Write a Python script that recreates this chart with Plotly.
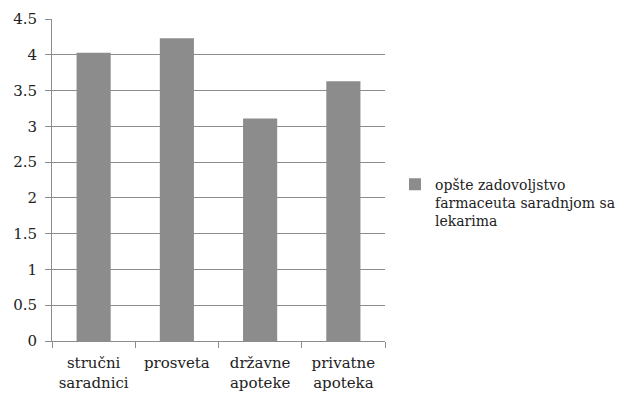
import plotly.graph_objects as go

categories = ["stručni<br>saradnici", "prosveta", "državne<br>apoteke", "privatne<br>apoteka"]
values = [4.03, 4.23, 3.11, 3.63]
series_name = "opšte zadovoljstvo<br>farmaceuta saradnjom sa<br>lekarima"
y_ticks = [0, 0.5, 1, 1.5, 2, 2.5, 3, 3.5, 4, 4.5]
y_tick_text = ["0", "0.5", "1", "1.5", "2", "2.5", "3", "3.5", "4", "4.5"]

FONT = "DejaVu Serif, serif"
GRID = "#8c8c8c"

fig = go.Figure()
fig.add_trace(go.Bar(
    x=categories, y=values, name=series_name,
    marker=dict(color="#8c8c8c", line=dict(width=0)),
    showlegend=True,
))

fig.update_layout(
    width=617, height=392,
    margin=dict(l=44, r=240, t=11, b=59, autoexpand=False),
    paper_bgcolor="white", plot_bgcolor="white",
    bargap=0.59,
    font=dict(family=FONT, size=15, color="#222222"),
    showlegend=True,
    legend=dict(
        x=1.03, y=0.43, xanchor="left", yanchor="middle",
        font=dict(family=FONT, size=14, color="#222222"),
        valign="top", itemwidth=30, tracegroupgap=0,
    ),
    xaxis=dict(
        showline=True, linecolor=GRID, linewidth=1,
        ticks="outside", tickson="boundaries", ticklen=6, tickcolor=GRID,
        ticklabelstandoff=8,
        showgrid=False, tickfont=dict(family=FONT, size=15), automargin=False,
    ),
    yaxis=dict(
        range=[0, 4.5], tickvals=y_ticks, ticktext=y_tick_text,
        showline=True, linecolor=GRID, linewidth=1,
        ticks="outside", ticklen=6, tickcolor=GRID,
        ticklabelstandoff=5,
        showgrid=True, gridcolor=GRID, gridwidth=1,
        zeroline=False, tickfont=dict(family=FONT, size=15), automargin=False,
    ),
)

fig.write_html("out.html")
